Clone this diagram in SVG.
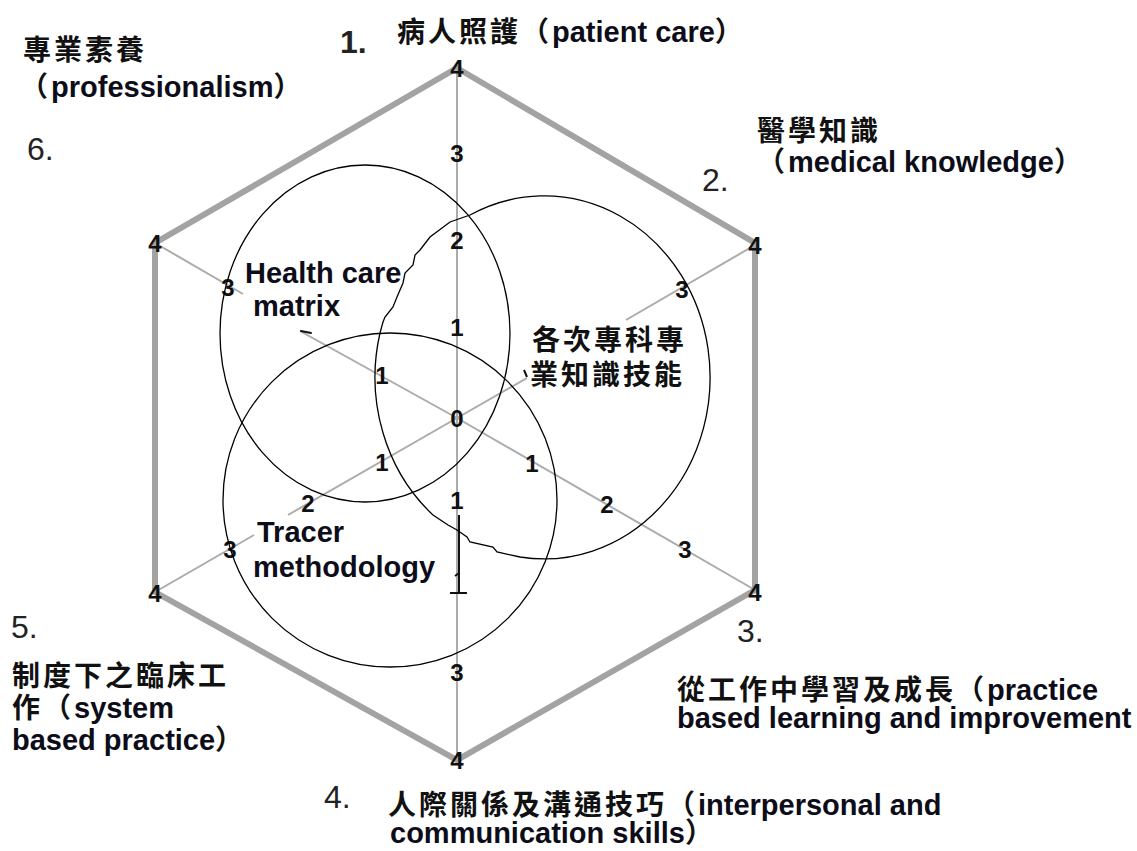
<svg xmlns="http://www.w3.org/2000/svg" width="1137" height="851" viewBox="0 0 1137 851">
<style>
.cjk{font-family:"Noto Sans CJK TC","Noto Sans CJK SC",sans-serif;font-size:28px;font-weight:700;letter-spacing:3px;fill:#111}
.lat{font-family:"Liberation Sans",Arial,sans-serif;font-size:29px;font-weight:700;letter-spacing:0;fill:#0d0d1a}
.num{font-family:"Liberation Sans",Arial,sans-serif;font-size:32px;fill:#222}
.tk{font-family:"Liberation Sans",Arial,sans-serif;font-size:24px;font-weight:700;text-anchor:middle;fill:#111}
.hex{fill:none;stroke:#a3a3a3;stroke-width:6;stroke-linejoin:miter}
.ax{stroke:#ababab;stroke-width:2;fill:none}
.ring{fill:none;stroke:#000;stroke-width:1.3}
.ink{fill:none;stroke:#111;stroke-width:2}
</style>
<rect width="1137" height="851" fill="#fff"/>
<g id="frame">
<polygon class="hex" points="457,68 755,243 755,590 457,760 155,592 155,243"/>
</g>
<g id="connectors">
<line class="ax" x1="457" y1="68" x2="457" y2="760"/>
<line class="ax" x1="155" y1="243" x2="243" y2="294"/>
<line class="ax" x1="300" y1="331" x2="457" y2="418"/>
<line class="ax" x1="457" y1="418" x2="527" y2="378"/>
<line class="ax" x1="626" y1="320" x2="755" y2="245"/>
<line class="ax" x1="457" y1="418" x2="755" y2="590"/>
<line class="ax" x1="457" y1="418" x2="288" y2="515"/>
<line class="ax" x1="254" y1="535" x2="155" y2="592"/>
<path class="ink" d="M301,331 L311,333" stroke-width="3" stroke-linecap="round"/>
<path class="ink" d="M524,370 L527,377"/>
<path class="ink" d="M459,515 V593 M450,593 H467 M455,576 L459,573"/>
</g>
<g id="scale-labels">
<text class="tk" x="457" y="77">4</text>
<text class="tk" x="457" y="162">3</text>
<text class="tk" x="457" y="249">2</text>
<text class="tk" x="457" y="336">1</text>
<text class="tk" x="457" y="427">0</text>
<text class="tk" x="457" y="509">1</text>
<text class="tk" x="457" y="681">3</text>
<text class="tk" x="457" y="769">4</text>
<text class="tk" x="155" y="252">4</text>
<text class="tk" x="228" y="296">3</text>
<text class="tk" x="382" y="384">1</text>
<text class="tk" x="682" y="298">3</text>
<text class="tk" x="755" y="254">4</text>
<text class="tk" x="532" y="472">1</text>
<text class="tk" x="607" y="513">2</text>
<text class="tk" x="685" y="558">3</text>
<text class="tk" x="755" y="601">4</text>
<text class="tk" x="382" y="471">1</text>
<text class="tk" x="308" y="512">2</text>
<text class="tk" x="230" y="558">3</text>
<text class="tk" x="155" y="602">4</text>
</g>
<g id="node-health-care-matrix">
<ellipse class="ring" cx="365" cy="333.5" rx="145" ry="168.5"/>
<text class="lat"><tspan x="245" y="283">Health care</tspan><tspan x="253" y="316">matrix</tspan></text>
</g>
<g id="node-specialty-knowledge">
<path class="ring" d="M470,215 A166,181.5 0 1 1 520,557 L497,552 L493,547 L470,542 L467,537 L457,530 L448,525 L433,515 A166,181.5 0 0 1 380,333 L383,322 L385,317 L393,307 L397,297 L403,283 L405,273 L413,265 L415,255 L420,250 L430,237 L450,222 Z"/>
<text class="cjk" letter-spacing="2.6"><tspan x="532" y="350">各次專科專</tspan><tspan x="530" y="385">業知識技能</tspan></text>
</g>
<g id="node-tracer-methodology">
<circle class="ring" cx="390" cy="500" r="167"/>
<text class="lat"><tspan x="257" y="542">Tracer</tspan><tspan x="253" y="577">methodology</tspan></text>
</g>
<g id="label-1">
<text class="num" x="340" y="53" font-weight="700">1.</text>
<text x="397" y="42"><tspan class="cjk">病人照護（</tspan><tspan class="lat">patient care</tspan><tspan class="cjk">）</tspan></text>
</g>
<g id="label-2">
<text><tspan class="cjk" x="757" y="141">醫學知識</tspan><tspan class="cjk" x="757" y="172">（</tspan><tspan class="lat">medical knowledge</tspan><tspan class="cjk">）</tspan></text>
<text class="num" x="702" y="191">2.</text>
</g>
<g id="label-3">
<text class="num" x="737" y="642">3.</text>
<text><tspan class="cjk" x="677" y="700">從工作中學習及成長（</tspan><tspan class="lat">practice</tspan><tspan class="lat" x="677" y="728">based learning and improvement</tspan></text>
</g>
<g id="label-4">
<text class="num" x="324" y="808">4.</text>
<text><tspan class="cjk" x="388" y="815">人際關係及溝通技巧（</tspan><tspan class="lat">interpersonal and</tspan><tspan class="lat" x="390" y="843">communication skills</tspan><tspan class="cjk">）</tspan></text>
</g>
<g id="label-5">
<text class="num" x="11" y="638">5.</text>
<text><tspan class="cjk" x="12" y="686">制度下之臨床工</tspan><tspan class="cjk" x="12" y="718">作（</tspan><tspan class="lat">system</tspan><tspan class="lat" x="12" y="750">based practice</tspan><tspan class="cjk">）</tspan></text>
</g>
<g id="label-6">
<text><tspan class="cjk" x="23" y="60">專業素養</tspan><tspan class="cjk" x="20" y="97">（</tspan><tspan class="lat">professionalism</tspan><tspan class="cjk">）</tspan></text>
<text class="num" x="27" y="160">6.</text>
</g>
</svg>
